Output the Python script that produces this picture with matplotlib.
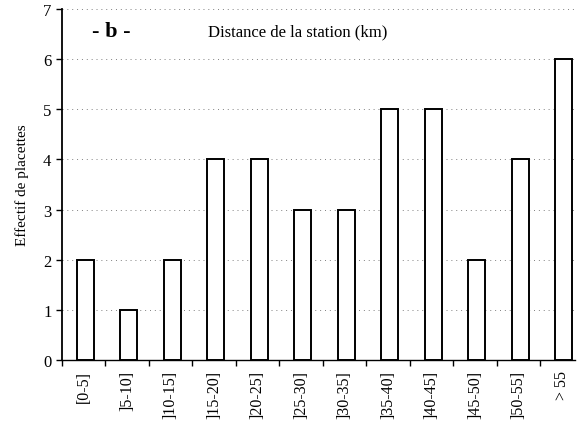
import numpy as np
import matplotlib
matplotlib.use("Agg")
import matplotlib.pyplot as plt

# classes de distance (km) et effectifs
classes = ["[0-5]", "]5-10]", "]10-15]", "]15-20]", "]20-25]", "]25-30]",
           "]30-35]", "]35-40]", "]40-45]", "]45-50]", "]50-55]", "> 55"]
effectifs = [2, 1, 2, 4, 4, 3, 3, 5, 5, 2, 4, 6]

plt.rcParams['font.family'] = ['Liberation Serif', 'DejaVu Serif']

fig = plt.figure(figsize=(5.83, 4.31), dpi=100)
ax = fig.add_axes([0.106, 0.162, 0.880, 0.815])

x = np.arange(len(classes))
ax.bar(x + 0.04, effectifs, width=0.39, color="white", edgecolor="black", linewidth=1.4, zorder=3)

ax.set_xlim(-0.5, 11.29)
ax.set_ylim(0, 7)
ax.set_yticks(range(0, 8))
ax.tick_params(axis="y", labelsize=12, length=4, width=1)
ax.yaxis.grid(True, linestyle=(0, (1, 4)), color="gray", linewidth=0.7, zorder=0)

ax.set_xticks(x)
ax.set_xticklabels(classes, rotation=90, fontsize=11.5)
ax.tick_params(axis="x", which="major", length=0, pad=7)
ax.set_xticks(np.arange(-0.5, 11.3), minor=True)
ax.tick_params(axis="x", which="minor", length=4, width=1, direction="out")

for s in ["top", "right"]:
    ax.spines[s].set_visible(False)
ax.spines["left"].set_linewidth(1.3)
ax.spines["bottom"].set_linewidth(1.0)

ax.set_ylabel("Effectif de placettes", fontsize=11, labelpad=10)

ax.text(0.2, 6.55, "- b -", fontsize=16, fontweight="bold", va="center", ha="left")
ax.text(2.85, 6.55, "Distance de la station (km)", fontsize=12, va="center", ha="left")

fig.savefig("out.png", dpi=100)
